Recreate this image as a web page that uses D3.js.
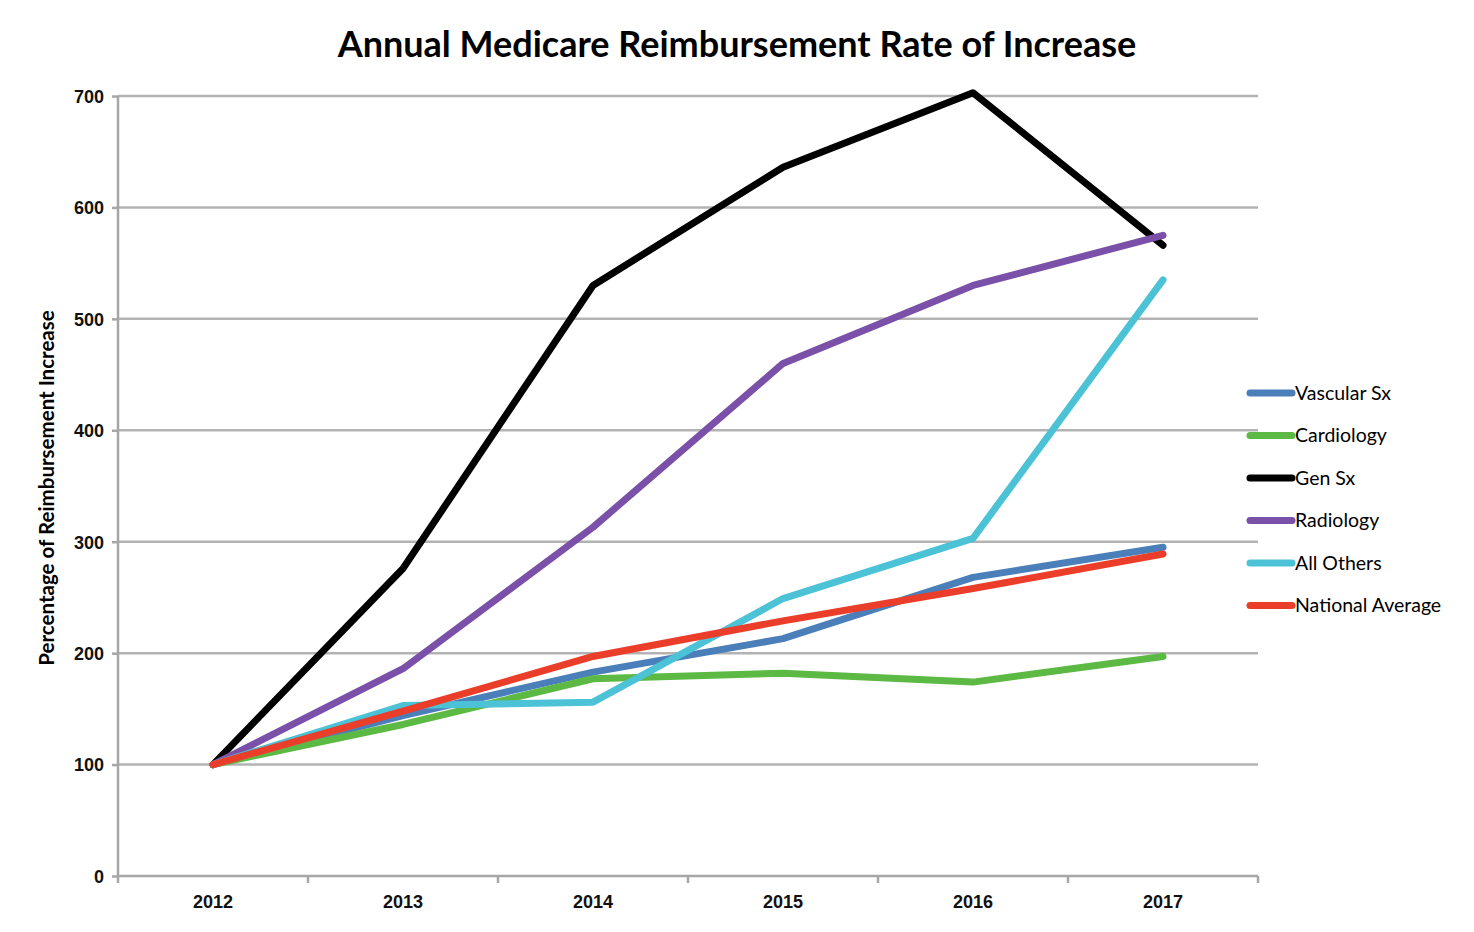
<!DOCTYPE html>
<html><head><meta charset="utf-8">
<script src="https://cdn.jsdelivr.net/npm/d3@7"></script>
<style>body{margin:0;background:#fff;} svg{display:block;font-family:Lato, "Open Sans", sans-serif;}</style>
</head><body>
<svg id="c" width="1474" height="932"></svg>
<script>
const years = ["2012","2013","2014","2015","2016","2017"];
const vascular = [100,144,183,213,268,295];
const cardiology = [100,136,177,182,174,197];
const genSx = [100,276,530,636,703,566];
const radiology = [100,186,313,460,530,575];
const allOthers = [100,153,156,249,303,535];
const national = [100,148,197,229,258,289];
const yTicks = [0,100,200,300,400,500,600,700];
const seriesNames = ["Vascular Sx","Cardiology","Gen Sx","Radiology","All Others","National Average"];
const seriesColors = ["#4a7fba","#5cb944","#000000","#7a50a8","#4bc2d6","#ea3e2b"];
const seriesValues = [vascular,cardiology,genSx,radiology,allOthers,national];

const svg = d3.select("#c");
const L=118,R=1258,T=96,B=876;
const x = d3.scaleBand().domain(years).range([L,R]);
const y = d3.scaleLinear().domain([0,700]).range([B,T]);

// gridlines
svg.append("g").selectAll("line").data(yTicks.filter(d=>d>0)).join("line")
  .attr("x1",L).attr("x2",R).attr("y1",d=>y(d)).attr("y2",d=>y(d))
  .attr("stroke","#b3b3b3").attr("stroke-width",2.5);

// y axis
const ya = svg.append("g").attr("transform",`translate(${L},0)`)
  .call(d3.axisLeft(y).tickValues(yTicks).tickSize(6).tickPadding(8));
ya.select(".domain").attr("stroke","#a6a6a6").attr("stroke-width",2.5).attr("d",`M0,${T}V${B}`);
ya.selectAll(".tick line").attr("stroke","#a6a6a6").attr("stroke-width",2.5);
ya.selectAll("text").attr("font-size",18).attr("font-weight",600).attr("fill","#111").attr("dy","0.35em");

// x axis
const xa = svg.append("g").attr("transform",`translate(0,${B})`)
  .call(d3.axisBottom(x).tickSize(0).tickPadding(19));
xa.select(".domain").attr("stroke","#a6a6a6").attr("stroke-width",2.5).attr("d",`M${L},0H${R}`);
xa.selectAll("text").attr("font-size",18).attr("font-weight",600).attr("fill","#111");
svg.append("g").selectAll("line").data(years.concat(["end"])).join("line")
  .attr("x1",(d,i)=>L+i*x.bandwidth()).attr("x2",(d,i)=>L+i*x.bandwidth())
  .attr("y1",B).attr("y2",B+7).attr("stroke","#a6a6a6").attr("stroke-width",2.5);

// lines
const line = d3.line().x((d,i)=>x(years[i])+x.bandwidth()/2).y(d=>y(d));
svg.append("g").selectAll("path").data(seriesValues.map((v,i)=>({v,c:seriesColors[i]}))).join("path")
  .attr("d",d=>line(d.v)).attr("fill","none").attr("stroke",d=>d.c)
  .attr("stroke-width",7).attr("stroke-linejoin","round").attr("stroke-linecap","round");

// title
svg.append("text").attr("x",737).attr("y",57).attr("text-anchor","middle")
  .attr("font-size",36).attr("font-weight",700).attr("fill","#000")
  .text("Annual Medicare Reimbursement Rate of Increase");

// y label
svg.append("text").attr("transform","translate(54,488) rotate(-90)").attr("text-anchor","middle")
  .attr("font-size",20.5).attr("font-weight",700).attr("fill","#000")
  .text("Percentage of Reimbursement Increase");

// legend
const lg = svg.append("g").selectAll("g").data(seriesNames).join("g")
  .attr("transform",(d,i)=>`translate(1250,${393+i*42.5})`);
lg.append("line").attr("x1",0).attr("x2",42).attr("stroke",(d,i)=>seriesColors[i])
  .attr("stroke-width",7).attr("stroke-linecap","round");
lg.append("text").attr("x",45).attr("dy","0.35em").attr("font-size",19.5).attr("fill","#000")
  .text(d=>d);
</script>
</body></html>
